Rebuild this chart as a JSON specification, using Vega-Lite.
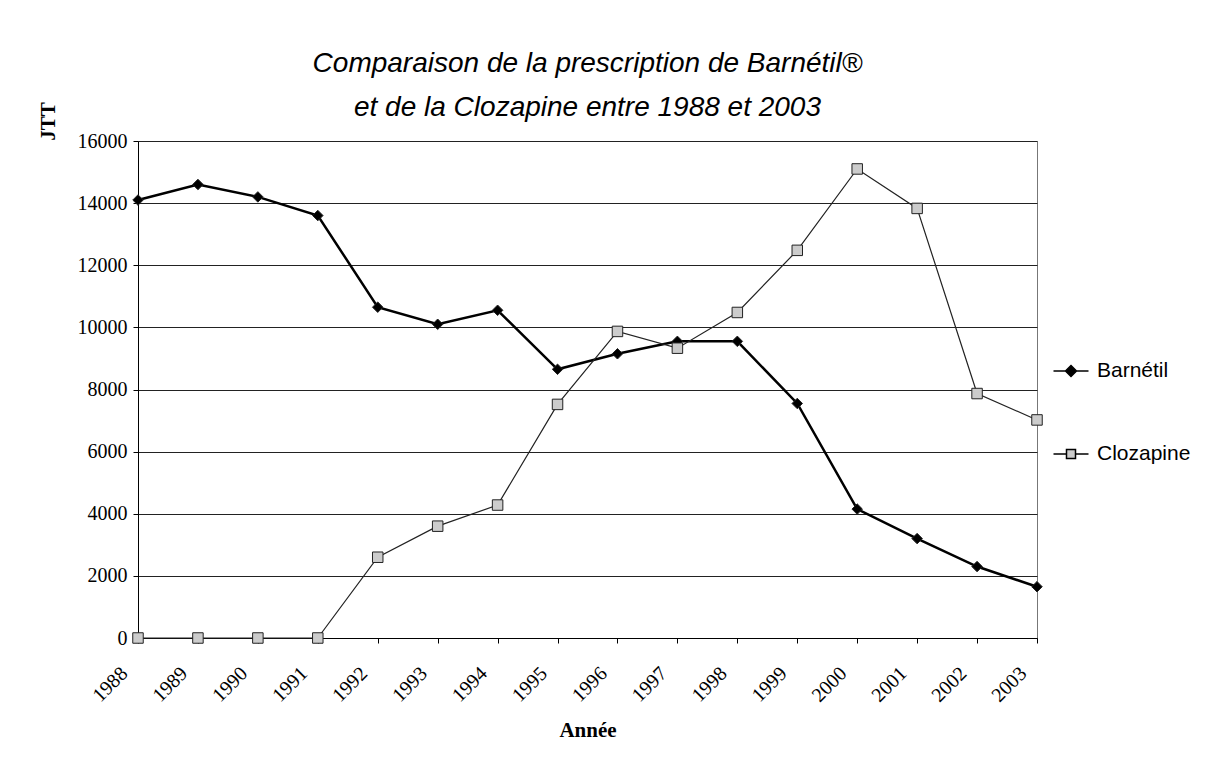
{
  "$schema": "https://vega.github.io/schema/vega-lite/v6.json",
  "autosize": {"type": "none"},
  "width": 899,
  "height": 497,
  "padding": {"left": 138, "top": 141, "right": 195, "bottom": 139},
  "background": "white",
  "config": {
    "view": {"stroke": "#777", "strokeWidth": 1},
    "axis": {
      "labelFont": "Liberation Serif",
      "labelFontSize": 20,
      "labelColor": "black",
      "titleFont": "Liberation Serif",
      "titleFontSize": 21,
      "titleFontWeight": "bold",
      "titleColor": "black",
      "domainColor": "black",
      "tickColor": "black",
      "tickSize": 5,
      "gridColor": "#222",
      "gridOpacity": 1,
      "gridWidth": 1
    }
  },
  "title": {
    "text": ["Comparaison de la prescription de Barnétil®", "et de la Clozapine entre 1988 et 2003"],
    "font": "Liberation Sans",
    "fontSize": 28,
    "fontStyle": "italic",
    "fontWeight": "normal",
    "color": "black",
    "lineHeight": 44,
    "anchor": "middle",
    "offset": -20
  },
  "data": {
    "values": [
      {"year": "1988", "series": "Barnétil", "value": 14100},
      {"year": "1989", "series": "Barnétil", "value": 14600},
      {"year": "1990", "series": "Barnétil", "value": 14200},
      {"year": "1991", "series": "Barnétil", "value": 13600},
      {"year": "1992", "series": "Barnétil", "value": 10650},
      {"year": "1993", "series": "Barnétil", "value": 10100},
      {"year": "1994", "series": "Barnétil", "value": 10550},
      {"year": "1995", "series": "Barnétil", "value": 8650},
      {"year": "1996", "series": "Barnétil", "value": 9150},
      {"year": "1997", "series": "Barnétil", "value": 9550},
      {"year": "1998", "series": "Barnétil", "value": 9550},
      {"year": "1999", "series": "Barnétil", "value": 7550},
      {"year": "2000", "series": "Barnétil", "value": 4150},
      {"year": "2001", "series": "Barnétil", "value": 3200},
      {"year": "2002", "series": "Barnétil", "value": 2300},
      {"year": "2003", "series": "Barnétil", "value": 1650},
      {"year": "1988", "series": "Clozapine", "value": 0},
      {"year": "1989", "series": "Clozapine", "value": 0},
      {"year": "1990", "series": "Clozapine", "value": 0},
      {"year": "1991", "series": "Clozapine", "value": 0},
      {"year": "1992", "series": "Clozapine", "value": 2600},
      {"year": "1993", "series": "Clozapine", "value": 3600},
      {"year": "1994", "series": "Clozapine", "value": 4280},
      {"year": "1995", "series": "Clozapine", "value": 7520},
      {"year": "1996", "series": "Clozapine", "value": 9870},
      {"year": "1997", "series": "Clozapine", "value": 9330},
      {"year": "1998", "series": "Clozapine", "value": 10480},
      {"year": "1999", "series": "Clozapine", "value": 12480},
      {"year": "2000", "series": "Clozapine", "value": 15100},
      {"year": "2001", "series": "Clozapine", "value": 13830},
      {"year": "2002", "series": "Clozapine", "value": 7870},
      {"year": "2003", "series": "Clozapine", "value": 7020}
    ]
  },
  "encoding": {
    "x": {
      "field": "year",
      "type": "ordinal",
      "scale": {"type": "point", "padding": 0},
      "axis": {
        "title": "Année",
        "labelAngle": -45,
        "labelAlign": "right",
        "labelBaseline": "middle",
        "labelPadding": 27,
        "labelOffset": -14,
        "titleY": 92,
        "titleBaseline": "middle"
      }
    },
    "y": {
      "field": "value",
      "type": "quantitative",
      "scale": {"domain": [0, 16000], "nice": false},
      "axis": {
        "title": "JTT",
        "values": [0, 2000, 4000, 6000, 8000, 10000, 12000, 14000, 16000],
        "format": "d",
        "labelPadding": 6,
        "titleX": -90,
        "titleY": -20,
        "titleAngle": -90,
        "titleAlign": "center",
        "titleBaseline": "middle"
      }
    }
  },
  "layer": [
    {
      "mark": {"type": "line"},
      "encoding": {
        "color": {"field": "series", "type": "nominal", "scale": {"domain": ["Barnétil", "Clozapine"], "range": ["#000000", "#222222"]}, "legend": null},
        "strokeWidth": {"field": "series", "type": "nominal", "scale": {"domain": ["Barnétil", "Clozapine"], "range": [2.5, 1.2]}, "legend": null}
      }
    },
    {
      "mark": {"type": "point", "filled": true, "stroke": "#222", "strokeWidth": 1, "size": 110, "opacity": 1},
      "encoding": {
        "shape": {"field": "series", "type": "nominal", "scale": {"domain": ["Barnétil", "Clozapine"], "range": ["diamond", "square"]}, "legend": null},
        "fill": {"field": "series", "type": "nominal", "scale": {"domain": ["Barnétil", "Clozapine"], "range": ["#000000", "#cccccc"]}, "legend": null}
      }
    },
    {
      "transform": [{"filter": "datum.value < 0"}],
      "mark": {"type": "point", "filled": false, "color": "black", "stroke": "black", "strokeWidth": 1.5, "opacity": 1},
      "encoding": {
        "shape": {
          "field": "series", "type": "nominal",
          "scale": {"domain": ["Barnétil", "Clozapine"], "range": ["M-1.75,0H-0.55M0,-0.55L0.55,0L0,0.55L-0.55,0ZM0.55,0H1.75", "M-1.75,0H-0.45M-0.45,-0.45H0.45V0.45H-0.45ZM0.45,0H1.75"]},
          "legend": {
            "title": null,
            "orient": "none",
            "legendX": 922,
            "legendY": 219,
            "padding": 0,
            "symbolSize": 400,
            "symbolStrokeWidth": 1.5,
            "labelFont": "Liberation Sans",
            "labelFontSize": 21,
            "labelColor": "black",
            "labelOffset": 15,
            "rowPadding": 62,
            "labelLimit": 300
          }
        },
        "fill": {
          "field": "series", "type": "nominal",
          "scale": {"domain": ["Barnétil", "Clozapine"], "range": ["#000000", "#cccccc"]}
        }
      }
    }
  ],
  "resolve": {"scale": {"shape": "independent", "fill": "independent"}}
}
